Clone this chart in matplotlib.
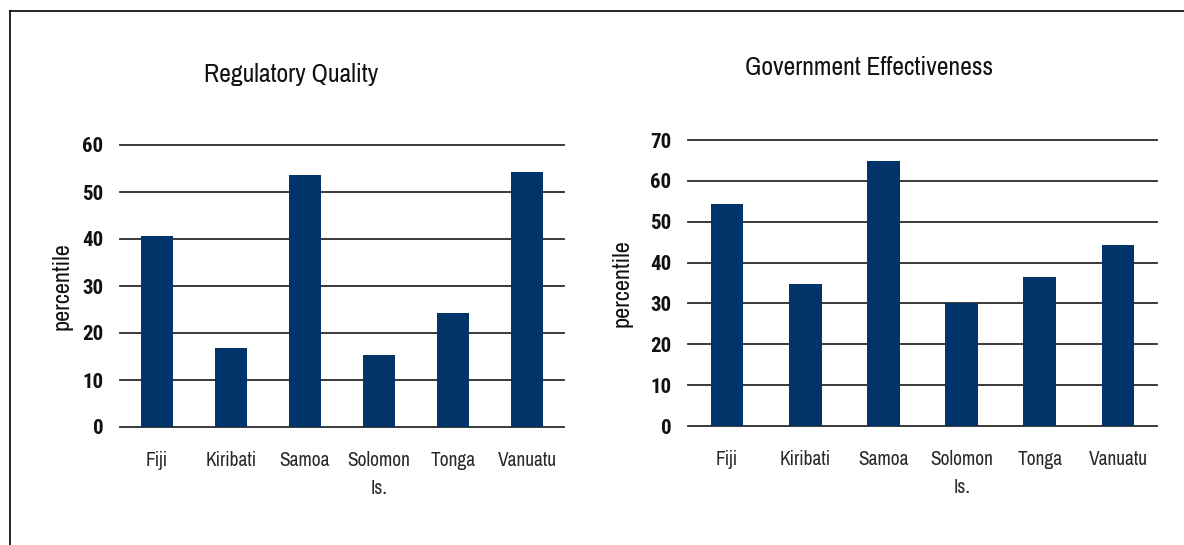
import matplotlib.pyplot as plt
from matplotlib.lines import Line2D

plt.rcParams['font.family'] = ['Archivo Narrow', 'DejaVu Sans']

countries = ['Fiji', 'Kiribati', 'Samoa', 'Solomon\nIs.', 'Tonga', 'Vanuatu']
regulatory_quality = [40.7, 16.8, 53.6, 15.3, 24.3, 54.3]
govt_effectiveness = [54.4, 34.8, 64.9, 30.1, 36.5, 44.4]

bar_color = '#02346a'
W, H = 1184, 545

fig = plt.figure(figsize=(W / 100, H / 100), dpi=100)

# frame lines on top and left edge
fig.add_artist(Line2D([10 / W, 10 / W], [0, 1 - 11 / H], color='black', lw=1.2))
fig.add_artist(Line2D([10 / W, 1], [1 - 11 / H, 1 - 11 / H], color='black', lw=1.2))


def draw_panel(rect, values, ymax, title, title_xy, ylabel_x):
    ax = fig.add_axes(rect)
    x = range(len(values))
    ax.bar(x, values, width=0.42, color=bar_color, zorder=3)
    ax.set_xlim(-0.5, len(values) - 0.5)
    ax.set_ylim(0, ymax)
    ax.set_yticks(range(0, ymax + 1, 10))
    ax.set_xticks(list(x))
    ax.set_xticklabels(countries, fontsize=14, color='#2a2a2a', linespacing=1.65)
    for lbl in ax.get_yticklabels():
        lbl.set_family(['Roboto Condensed', 'DejaVu Sans'])
        lbl.set_fontsize(15)
        lbl.set_fontweight('bold')
        lbl.set_color('#111111')
    ax.tick_params(axis='both', length=0)
    ax.tick_params(axis='x', pad=17)
    ax.tick_params(axis='y', pad=12)
    ax.yaxis.grid(True, color='#2a2a2a', lw=1.3, zorder=0)
    for gl in ax.get_ygridlines():
        gl.set_clip_on(False)
    for s in ax.spines.values():
        s.set_visible(False)
    ax.set_axisbelow(True)
    fig.text(title_xy[0] / W, 1 - title_xy[1] / H, title, fontsize=18.5,
             ha='center', va='center', color='#111111')
    y0 = rect[1] + rect[3] / 2
    fig.text(ylabel_x / W, y0, 'percentile', fontsize=17.5, rotation=90,
             ha='center', va='center', color='#111111')
    return ax


draw_panel([120 / W, 1 - 427 / H, 444 / W, 282 / H], regulatory_quality, 60,
           'Regulatory Quality', (291, 74), 62)
draw_panel([688 / W, 1 - 426 / H, 469 / W, 286 / H], govt_effectiveness, 70,
           'Government Effectiveness', (869, 67), 622)

fig.savefig('out.png', dpi=100)
